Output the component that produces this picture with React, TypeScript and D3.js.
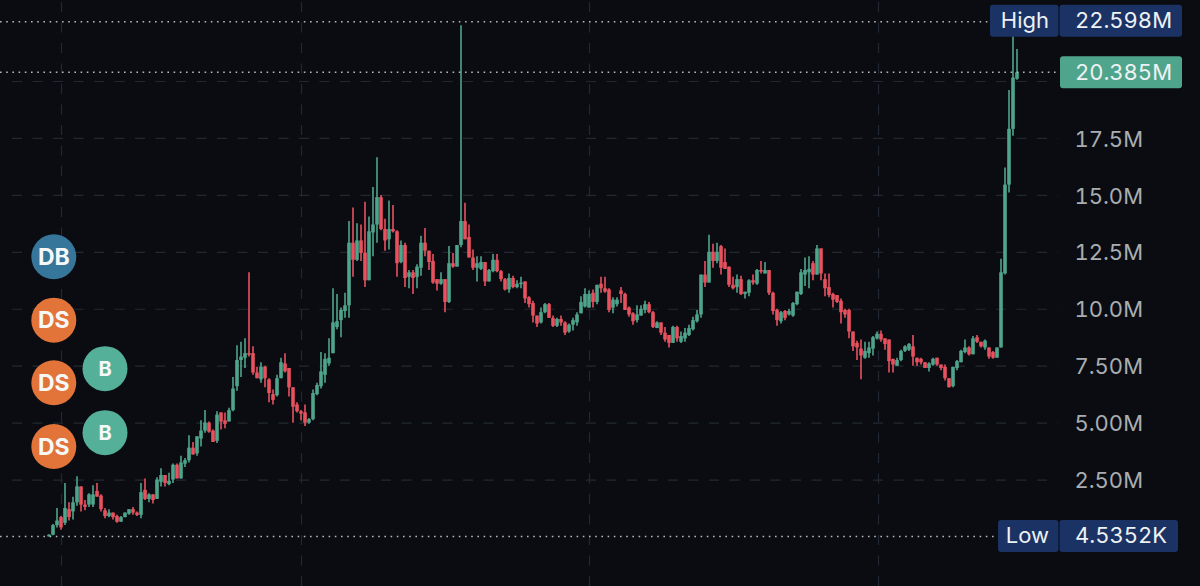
import * as d3 from "d3";
import { useEffect, useRef } from "react";

const width = 1200,
  height = 586;

// candles, values in millions left to right
const opens = [
  0.005, 0.08, 0.5, 0.85, 0.6, 1.2, 1.1, 1.5, 2.2, 1.4,
  1.4, 1.4, 2.0, 1.8, 1.15, 0.9, 1.05, 0.9, 0.65, 0.85,
  1.0, 1.2, 1.05, 0.95, 2.05, 1.65, 1.85, 1.65, 2.4, 2.7,
  2.3, 2.5, 3.15, 2.55, 3.2, 3.35, 3.9, 3.65, 4.3, 4.65,
  5.0, 4.65, 4.2, 5.45, 5.1, 5.05, 5.55, 6.6, 7.75, 7.85,
  8.05, 8.05, 7.2, 6.9, 7.45, 6.9, 6.25, 6.2, 6.95, 7.6,
  7.4, 6.55, 5.8, 5.5, 5.45, 5.0, 5.15, 6.25, 6.6, 7.1,
  7.6, 8.05, 9.2, 9.5, 9.9, 10.15, 12.9, 12.15, 13.0, 12.45,
  11.25, 13.35, 13.7, 14.9, 13.5, 13.05, 13.5, 13.4, 12.05, 12.8,
  11.4, 11.6, 11.4, 11.8, 12.9, 12.55, 12.1, 11.3, 11.1, 11.3,
  10.3, 12.0, 11.85, 12.8, 13.85, 13.15, 12.25, 11.8, 11.75, 12.05,
  11.2, 11.65, 12.15, 11.65, 11.3, 10.85, 11.35, 10.95, 11.1, 11.2,
  10.5, 10.25, 9.7, 9.4, 9.85, 10.2, 9.6, 9.25, 9.55, 9.4,
  9.0, 9.3, 9.4, 9.8, 10.1, 10.05, 10.7, 10.3, 11.1, 10.9,
  10.85, 10.05, 10.2, 10.8, 10.65, 10.05, 9.8, 9.5, 9.7, 9.95,
  10.2, 9.85, 9.15, 9.4, 8.95, 8.85, 8.5, 9.2, 8.55, 8.7,
  8.85, 9.1, 9.45, 9.75, 11.5, 11.15, 12.5, 12.1, 12.75, 12.05,
  11.85, 11.05, 10.95, 11.3, 10.65, 10.7, 11.25, 11.1, 11.7, 11.55,
  11.7, 10.7, 9.95, 9.45, 9.9, 9.75, 9.7, 10.2, 10.65, 11.5,
  11.6, 12.0, 11.5, 12.65, 11.3, 10.95, 10.65, 10.6, 10.35, 9.95,
  9.95, 9.0, 8.5, 8.25, 7.85, 8.05, 8.25, 8.7, 8.9, 8.7,
  8.65, 7.8, 7.5, 7.75, 8.15, 8.2, 8.35, 7.85, 7.8, 7.65,
  7.4, 7.55, 7.85, 7.55, 7.45, 6.95, 6.6, 7.4, 7.65, 8.1,
  8.3, 8.0, 8.75, 8.55, 8.3, 8.3, 8.1, 7.85, 8.3, 11.55,
  15.45, 17.9, 20.1,
];
const highs = [
  0.1, 0.55, 1.25, 0.9, 2.35, 1.5, 1.75, 2.65, 2.2, 1.6,
  1.9, 2.25, 2.35, 1.85, 1.25, 1.2, 1.05, 0.95, 0.9, 1.05,
  1.2, 1.3, 1.1, 2.35, 2.55, 1.9, 1.85, 2.6, 3.0, 2.7,
  2.8, 3.2, 3.2, 3.55, 3.45, 4.45, 4.15, 4.4, 5.1, 5.55,
  5.05, 4.7, 5.5, 5.45, 5.45, 5.65, 7.0, 8.4, 8.55, 8.7,
  11.6, 8.35, 7.45, 7.65, 7.5, 6.95, 6.45, 7.1, 7.85, 8.05,
  7.4, 6.55, 5.9, 5.55, 5.8, 5.2, 6.45, 6.75, 8.1, 8.05,
  8.7, 10.9, 10.65, 10.05, 10.7, 13.85, 14.45, 13.75, 13.7, 14.7,
  14.05, 15.35, 16.65, 15.0, 13.95, 14.75, 14.55, 13.45, 13.0, 12.9,
  11.7, 11.7, 11.95, 13.2, 13.55, 12.55, 12.4, 11.3, 11.6, 11.3,
  12.75, 12.45, 12.8, 22.45, 14.65, 13.7, 12.6, 12.3, 12.3, 12.05,
  11.75, 12.4, 12.4, 11.7, 11.35, 11.55, 11.45, 11.25, 11.4, 11.2,
  10.55, 10.35, 9.7, 10.05, 10.25, 10.25, 9.7, 9.6, 9.7, 9.45,
  9.35, 9.6, 9.85, 10.55, 10.9, 10.8, 10.85, 11.05, 11.4, 11.4,
  10.9, 10.5, 10.5, 10.95, 10.7, 10.1, 9.85, 10.15, 10.15, 10.35,
  10.3, 9.9, 9.45, 9.4, 9.2, 8.85, 9.25, 9.25, 9.0, 9.15,
  9.3, 9.65, 9.95, 11.5, 12.1, 13.25, 12.85, 12.9, 12.8, 12.65,
  11.85, 11.4, 11.5, 11.45, 10.75, 11.3, 11.5, 11.75, 12.1, 12.05,
  11.7, 10.75, 10.0, 9.9, 9.95, 10.0, 10.3, 10.75, 11.75, 12.25,
  12.3, 12.1, 12.8, 12.65, 11.55, 11.55, 10.7, 10.6, 10.45, 10.0,
  10.0, 9.0, 8.6, 8.65, 8.55, 8.55, 8.8, 9.0, 9.05, 8.7,
  8.65, 7.8, 7.85, 8.2, 8.4, 8.5, 8.85, 7.85, 7.85, 7.65,
  7.65, 7.85, 7.85, 7.55, 7.55, 6.95, 7.45, 7.75, 8.2, 8.65,
  8.35, 8.8, 8.85, 8.55, 8.65, 8.3, 8.15, 8.3, 12.2, 16.2,
  19.6, 22.598, 21.4,
];
const lows = [
  0.005, 0.05, 0.4, 0.3, 0.5, 0.7, 0.75, 1.35, 1.1, 1.15,
  1.3, 1.3, 1.75, 1.1, 0.8, 0.85, 0.75, 0.6, 0.65, 0.85,
  0.95, 0.95, 0.9, 0.8, 1.6, 1.5, 1.45, 1.65, 2.2, 2.2,
  2.25, 2.35, 2.55, 2.55, 3.05, 3.25, 3.6, 3.55, 3.95, 4.55,
  4.55, 4.15, 4.1, 4.7, 4.75, 5.05, 5.5, 6.4, 7.0, 7.4,
  7.9, 7.1, 6.95, 6.75, 6.55, 5.9, 5.8, 6.15, 6.95, 7.2,
  6.15, 5.0, 5.45, 5.1, 4.85, 4.95, 5.1, 6.2, 6.5, 6.75,
  7.5, 8.05, 9.1, 8.75, 9.6, 9.6, 11.4, 12.1, 12.1, 10.95,
  11.25, 12.3, 12.9, 13.45, 12.55, 12.6, 13.35, 11.4, 12.0, 10.95,
  10.9, 10.65, 10.9, 11.45, 12.3, 11.7, 11.1, 10.8, 11.05, 9.85,
  10.25, 11.8, 11.85, 12.7, 13.05, 12.25, 11.7, 11.2, 11.7, 11.0,
  11.2, 11.6, 11.6, 11.2, 10.8, 10.7, 10.9, 10.9, 10.9, 10.25,
  10.05, 9.4, 9.2, 9.35, 9.8, 9.6, 9.2, 9.2, 9.25, 8.85,
  8.95, 9.05, 9.25, 9.8, 10.05, 10.05, 10.05, 10.2, 10.7, 10.7,
  9.85, 9.8, 10.1, 10.25, 9.95, 9.65, 9.3, 9.4, 9.7, 9.8,
  9.8, 9.15, 9.15, 8.85, 8.55, 8.3, 8.5, 8.55, 8.5, 8.55,
  8.8, 9.05, 9.4, 9.6, 10.95, 11.15, 11.8, 12.0, 11.5, 11.75,
  10.95, 10.85, 10.7, 10.6, 10.45, 10.55, 11.05, 11.05, 11.55, 11.55,
  10.6, 9.75, 9.25, 9.35, 9.5, 9.7, 9.65, 10.15, 10.6, 11.0,
  10.9, 11.25, 11.5, 11.25, 10.55, 10.5, 10.05, 10.25, 9.35, 9.6,
  8.7, 8.15, 7.75, 6.9, 7.8, 7.85, 7.95, 8.65, 8.55, 8.2,
  7.2, 7.2, 7.5, 7.7, 8.1, 8.15, 7.5, 7.5, 7.55, 7.4,
  7.25, 7.5, 7.5, 7.3, 6.85, 6.55, 6.55, 7.3, 7.65, 8.05,
  7.95, 8.0, 8.5, 8.3, 8.2, 7.8, 7.8, 7.85, 8.3, 11.5,
  15.1, 17.6, 20.05,
];
const closes = [
  0.08, 0.5, 0.7, 0.4, 1.25, 0.85, 1.5, 2.2, 1.4, 1.3,
  1.85, 1.85, 1.75, 1.2, 0.9, 1.05, 0.85, 0.65, 0.85, 1.05,
  1.2, 1.05, 0.95, 1.95, 1.65, 1.85, 1.6, 2.5, 2.7, 2.35,
  2.45, 3.15, 2.55, 3.25, 3.35, 3.9, 3.6, 4.4, 4.65, 5.0,
  4.6, 4.15, 5.35, 5.05, 4.95, 5.55, 6.5, 7.75, 7.9, 8.05,
  8.0, 7.2, 6.95, 7.45, 6.95, 6.3, 6.0, 6.95, 7.65, 7.25,
  6.55, 5.7, 5.5, 5.4, 5.0, 5.15, 6.3, 6.65, 7.25, 7.8,
  7.85, 9.4, 9.45, 9.95, 10.15, 12.9, 12.15, 13.0, 12.45, 11.25,
  13.4, 13.7, 14.9, 13.5, 13.0, 13.5, 13.4, 12.0, 12.8, 11.35,
  11.6, 11.35, 11.85, 12.9, 12.55, 12.05, 11.15, 11.1, 11.3, 10.3,
  12.0, 11.85, 12.8, 13.85, 13.05, 12.25, 11.8, 12.0, 12.05, 11.2,
  11.7, 12.15, 11.65, 11.3, 10.85, 11.35, 10.95, 11.1, 11.15, 10.45,
  10.2, 9.7, 9.35, 9.85, 10.2, 9.6, 9.25, 9.55, 9.4, 8.95,
  9.3, 9.5, 9.75, 10.3, 10.65, 10.65, 10.3, 11.05, 10.9, 10.75,
  9.95, 10.4, 10.4, 10.65, 9.95, 9.75, 9.45, 9.75, 10.0, 10.2,
  9.85, 9.2, 9.4, 8.95, 8.65, 8.5, 9.2, 8.7, 8.8, 8.95,
  9.15, 9.5, 9.75, 11.5, 11.15, 12.5, 12.1, 12.5, 11.8, 11.75,
  11.05, 10.9, 11.3, 10.65, 10.75, 11.25, 11.15, 11.7, 11.65, 11.7,
  10.7, 9.9, 9.5, 9.85, 9.6, 9.9, 10.25, 10.75, 11.6, 11.7,
  11.75, 11.5, 12.65, 11.55, 10.9, 10.6, 10.4, 10.3, 9.85, 9.75,
  9.0, 8.35, 8.3, 7.95, 8.15, 8.3, 8.75, 8.9, 8.65, 8.45,
  7.7, 7.55, 7.75, 8.15, 8.35, 8.45, 7.9, 7.65, 7.65, 7.4,
  7.6, 7.8, 7.55, 7.4, 6.95, 6.55, 7.45, 7.7, 8.15, 8.3,
  8.0, 8.7, 8.55, 8.35, 8.6, 7.9, 7.85, 8.3, 11.6, 15.45,
  17.9, 20.15, 20.385,
];

const gridValues = [2.5, 5, 7.5, 10, 12.5, 15, 17.5, 20];
const tickValues = [2.5, 5, 7.5, 10, 12.5, 15, 17.5];
const tickLabels = ["2.50M", "5.00M", "7.50M", "10.0M", "12.5M", "15.0M", "17.5M"];
const gridCandles = [3, 63, 135, 207.25];

const highValue = 22.598;
const lastValue = 20.385;
const lowValue = 0.0045;

// trade markers, placed in candle / price units
const markerLabels = ["DB", "DS", "DS", "DS", "B", "B"];
const markerCandles = [1.2, 1.2, 1.2, 1.2, 14, 14];
const markerPrices = [12.28, 9.5, 6.75, 3.95, 7.37, 4.56];

const font = "Inter, 'Liberation Sans', sans-serif";
const up = "#4fa58b",
  down = "#e8525f",
  bg = "#0a0c11",
  gridColor = "#222833",
  navy = "#1b3364";

export default function App() {
  const ref = useRef<SVGSVGElement | null>(null);

  useEffect(() => {
    if (!ref.current) return;
    document.body.style.margin = "0";
    document.body.style.background = bg;
    const svg = d3.select(ref.current);
    svg.selectAll("*").remove();

    const x = d3.scaleLinear([0, opens.length - 1], [49, 1017]);
    const y = d3.scaleLinear([0, 20], [536.5, 81]);

    // grid
    svg
      .append("g")
      .attr("transform", "translate(12,0)")
      .call(
        d3
          .axisRight(y)
          .tickValues(gridValues)
          .tickFormat(() => "")
          .tickSize(1046)
      )
      .call((g) => g.select(".domain").remove())
      .call((g) =>
        g.selectAll(".tick line").attr("stroke", gridColor).attr("stroke-width", 1.2).attr("stroke-dasharray", "10,10.5")
      );
    svg
      .append("g")
      .attr("transform", `translate(0,${height})`)
      .call(
        d3
          .axisBottom(x)
          .tickValues(gridCandles)
          .tickFormat(() => "")
          .tickSize(-height)
      )
      .call((g) => g.select(".domain").remove())
      .call((g) =>
        g.selectAll(".tick line").attr("stroke", gridColor).attr("stroke-width", 1.2).attr("stroke-dasharray", "10,10.5")
      );

    // price axis labels
    svg
      .append("g")
      .attr("transform", "translate(1143,0)")
      .call(d3.axisRight(y).tickValues(tickValues).tickFormat((_, i) => tickLabels[i]).tickSize(0).tickPadding(0))
      .call((g) => g.select(".domain").remove())
      .call((g) =>
        g
          .selectAll(".tick text")
          .attr("text-anchor", "end")
          .attr("fill", "#a9adb2")
          .attr("dy", "0.37em")
          .style("font", `400 22px ${font}`)
          .style("font-variant-numeric", "tabular-nums")
      );

    // candles
    const candles = d3.range(opens.length);
    const color = (i: number) => (closes[i] >= opens[i] ? up : down);
    const marks = svg.append("g");
    marks
      .selectAll("line")
      .data(candles)
      .join("line")
      .attr("x1", (i) => x(i))
      .attr("x2", (i) => x(i))
      .attr("y1", (i) => y(highs[i]))
      .attr("y2", (i) => y(lows[i]))
      .attr("stroke", color)
      .attr("stroke-width", 1.6);
    marks
      .selectAll("rect")
      .data(candles)
      .join("rect")
      .attr("x", (i) => x(i) - 1.8)
      .attr("width", 3.6)
      .attr("y", (i) => y(Math.max(opens[i], closes[i])))
      .attr("height", (i) => Math.max(1.5, Math.abs(y(opens[i]) - y(closes[i]))))
      .attr("fill", color);

    // dotted lines for high, last and low
    const dotted = [
      { v: highValue, end: 990 },
      { v: lastValue, end: 1060 },
      { v: lowValue, end: 998 },
    ];
    svg
      .append("g")
      .selectAll("line")
      .data(dotted)
      .join("line")
      .attr("x1", 0)
      .attr("x2", (d) => d.end)
      .attr("y1", (d) => y(d.v))
      .attr("y2", (d) => y(d.v))
      .attr("stroke", "#b4b9b9")
      .attr("stroke-width", 1.5)
      .attr("stroke-dasharray", "1.6,4.6");

    // badges on the right
    const badge = (
      x0: number,
      x1: number,
      cy: number,
      fill: string,
      label: string,
      textX: number
    ) => {
      svg
        .append("rect")
        .attr("x", x0)
        .attr("y", cy - 16)
        .attr("width", x1 - x0)
        .attr("height", 32)
        .attr("rx", 3)
        .attr("fill", fill);
      svg
        .append("text")
        .attr("x", textX)
        .attr("y", cy + 7.5)
        .attr("text-anchor", "end")
        .attr("fill", "#eef1f3")
        .style("font", `400 22px ${font}`)
        .style("font-variant-numeric", "tabular-nums")
        .text(label);
    };
    badge(990, 1058.5, y(highValue) - 1, navy, "High", 1049);
    badge(1059.5, 1182, y(highValue) - 1, navy, "22.598M", 1172);
    badge(1060, 1182, y(lastValue), up, "20.385M", 1172);
    badge(998, 1058.5, y(lowValue) - 0.5, navy, "Low", 1049);
    badge(1059.5, 1178, y(lowValue) - 0.5, navy, "4.5352K", 1167);

    // trade markers
    const markerFill: Record<string, string> = { DB: "#37769b", DS: "#e2743a", B: "#55b09a" };
    const m = svg
      .append("g")
      .selectAll("g")
      .data(markerLabels)
      .join("g")
      .attr("transform", (_, i) => `translate(${x(markerCandles[i])},${y(markerPrices[i])})`);
    m.append("circle")
      .attr("r", 22.5)
      .attr("fill", (d) => markerFill[d]);
    m.append("text")
      .attr("text-anchor", "middle")
      .attr("y", (d) => (d === "B" ? 7 : 8))
      .attr("fill", "#f6f8f8")
      .style("font", (d) => `700 ${d === "B" ? 20 : 23}px ${font}`)
      .text((d) => d);
  }, []);

  return <svg ref={ref} width={width} height={height} style={{ display: "block", background: bg }} />;
}
